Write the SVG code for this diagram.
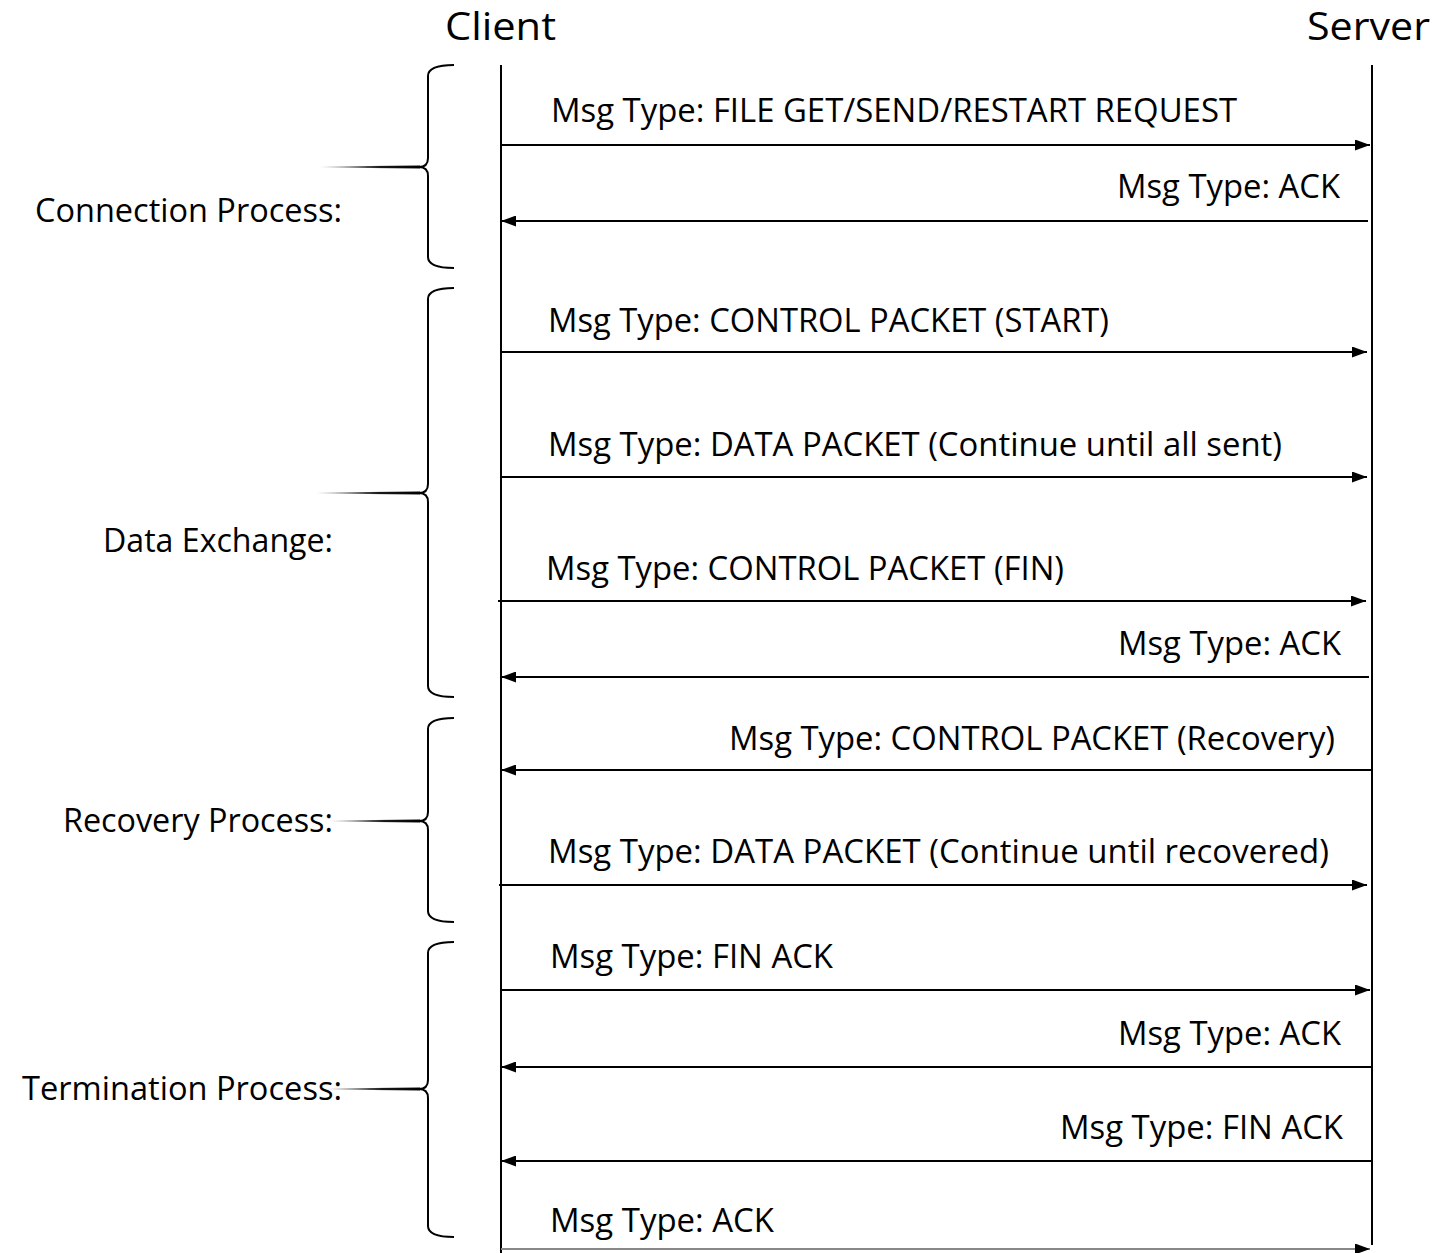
<svg xmlns="http://www.w3.org/2000/svg" width="1438" height="1253" viewBox="0 0 1438 1253">
<style>
.t{font-family:"Open Sans","Liberation Sans",sans-serif;font-size:32px;fill:#000}
.h{font-family:"Open Sans","Liberation Sans",sans-serif;font-size:39px;fill:#000}
.life{stroke:#000;stroke-width:2;fill:none}
.msg{stroke:#000;stroke-width:2;fill:none}
.br{stroke:#000;stroke-width:2;fill:none}
</style>
<defs>
<marker id="ah" viewBox="0 0 15 11" refX="15" refY="5.5" markerWidth="15" markerHeight="11" markerUnits="userSpaceOnUse" orient="auto">
<path d="M0,0 L15,5.5 L0,11 Z" fill="#000"/>
</marker>
<marker id="ahg" viewBox="0 0 15 11" refX="15" refY="5.5" markerWidth="15" markerHeight="11" markerUnits="userSpaceOnUse" orient="auto">
<path d="M0,0 L15,5.5 L0,11 Z" fill="#000"/>
</marker>
<linearGradient id="tip" x1="0" y1="0" x2="1" y2="0">
<stop offset="0" stop-color="#000" stop-opacity="0"/>
<stop offset="0.6" stop-color="#000" stop-opacity="0.9"/>
<stop offset="1" stop-color="#000"/>
</linearGradient>
</defs>
<g id="client">
<text class="h" x="445" y="40" textLength="111" lengthAdjust="spacingAndGlyphs">Client</text>
<line class="life" x1="501" y1="65" x2="501" y2="1253"/>
</g>
<g id="server">
<text class="h" x="1307" y="40" textLength="123" lengthAdjust="spacingAndGlyphs">Server</text>
<line class="life" x1="1372" y1="65" x2="1372" y2="1245"/>
</g>
<g id="connection-process">
<text class="t" x="35" y="222" textLength="307" lengthAdjust="spacingAndGlyphs">Connection Process:</text>
<path class="br" d="M454,65 Q428,65 428,76 L428,158 Q428,167 419,167 Q428,167 428,176 L428,257 Q428,268 454,268"/>
<path d="M320,166.5 L420,165.5 L420,168.5 L320,167.5 Z" fill="url(#tip)"/>
</g>
<g id="data-exchange">
<text class="t" x="103" y="552" textLength="230" lengthAdjust="spacingAndGlyphs">Data Exchange:</text>
<path class="br" d="M454,288 Q428,288 428,299 L428,484 Q428,493 419,493 Q428,493 428,502 L428,686 Q428,697 454,697"/>
<path d="M316,492.5 L420,491.5 L420,494.5 L316,493.5 Z" fill="url(#tip)"/>
</g>
<g id="recovery-process">
<text class="t" x="63" y="832" textLength="270" lengthAdjust="spacingAndGlyphs">Recovery Process:</text>
<path class="br" d="M454,718 Q428,718 428,729 L428,812 Q428,821 419,821 Q428,821 428,830 L428,911 Q428,922 454,922"/>
<path d="M330,820.5 L420,819.5 L420,822.5 L330,821.5 Z" fill="url(#tip)"/>
</g>
<g id="termination-process">
<text class="t" x="22" y="1100" textLength="320" lengthAdjust="spacingAndGlyphs">Termination Process:</text>
<path class="br" d="M454,942 Q428,942 428,953 L428,1080 Q428,1089 419,1089 Q428,1089 428,1098 L428,1226 Q428,1237 454,1237"/>
<path d="M325,1088.5 L420,1087.5 L420,1090.5 L325,1089.5 Z" fill="url(#tip)"/>
</g>
<g id="connectors">
<line class="msg" x1="501" y1="145" x2="1370" y2="145" marker-end="url(#ah)"/>
<line class="msg" x1="1368" y1="221" x2="501" y2="221" marker-end="url(#ah)"/>
<line class="msg" x1="501" y1="352" x2="1367" y2="352" marker-end="url(#ah)"/>
<line class="msg" x1="501" y1="477" x2="1367" y2="477" marker-end="url(#ah)"/>
<line class="msg" x1="498" y1="601" x2="1366" y2="601" marker-end="url(#ah)"/>
<line class="msg" x1="1369" y1="677" x2="501" y2="677" marker-end="url(#ah)"/>
<line class="msg" x1="1371" y1="770" x2="501" y2="770" marker-end="url(#ah)"/>
<line class="msg" x1="499" y1="885" x2="1367" y2="885" marker-end="url(#ah)"/>
<line class="msg" x1="501" y1="990" x2="1370" y2="990" marker-end="url(#ah)"/>
<line class="msg" x1="1371" y1="1067" x2="501" y2="1067" marker-end="url(#ah)"/>
<line class="msg" x1="1371" y1="1161" x2="501" y2="1161" marker-end="url(#ah)"/>
<line x1="501" y1="1249" x2="1370" y2="1249" stroke="#888" stroke-width="2" marker-end="url(#ahg)"/>
<text class="t" x="551" y="122" textLength="686" lengthAdjust="spacingAndGlyphs">Msg Type: FILE GET/SEND/RESTART REQUEST</text>
<text class="t" x="1117" y="198" textLength="223" lengthAdjust="spacingAndGlyphs">Msg Type: ACK</text>
<text class="t" x="548" y="332" textLength="561" lengthAdjust="spacingAndGlyphs">Msg Type: CONTROL PACKET (START)</text>
<text class="t" x="548" y="456" textLength="734" lengthAdjust="spacingAndGlyphs">Msg Type: DATA PACKET (Continue until all sent)</text>
<text class="t" x="546" y="580" textLength="518" lengthAdjust="spacingAndGlyphs">Msg Type: CONTROL PACKET (FIN)</text>
<text class="t" x="1118" y="655" textLength="223" lengthAdjust="spacingAndGlyphs">Msg Type: ACK</text>
<text class="t" x="729" y="750" textLength="606" lengthAdjust="spacingAndGlyphs">Msg Type: CONTROL PACKET (Recovery)</text>
<text class="t" x="548" y="863" textLength="781" lengthAdjust="spacingAndGlyphs">Msg Type: DATA PACKET (Continue until recovered)</text>
<text class="t" x="550" y="968" textLength="283" lengthAdjust="spacingAndGlyphs">Msg Type: FIN ACK</text>
<text class="t" x="1118" y="1045" textLength="223" lengthAdjust="spacingAndGlyphs">Msg Type: ACK</text>
<text class="t" x="1060" y="1139" textLength="283" lengthAdjust="spacingAndGlyphs">Msg Type: FIN ACK</text>
<text class="t" x="550" y="1232" textLength="224" lengthAdjust="spacingAndGlyphs">Msg Type: ACK</text>
</g>
</svg>
